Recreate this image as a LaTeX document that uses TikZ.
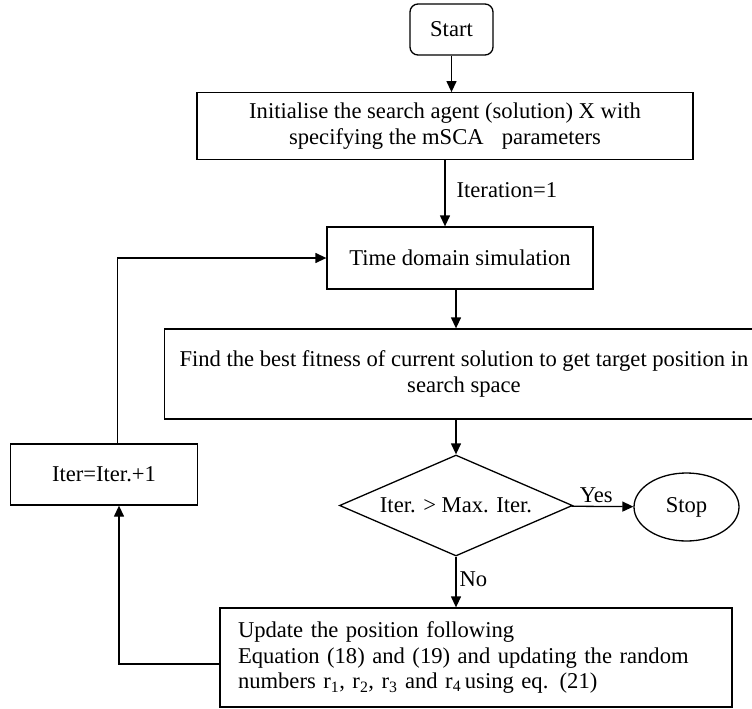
\documentclass[tikz,border=0pt]{standalone}
\usepackage{fontspec}
\setmainfont{Liberation Serif}
\usetikzlibrary{shapes.geometric,arrows.meta}
\tikzstyle{arrow} = [-{Triangle[length=11pt,width=10pt]}, line width=1.3pt]
\tikzstyle{block} = [rectangle, draw, line width=1.3pt, text centered, align=center, inner sep=0pt]
\tikzstyle{startbox} = [rectangle, draw, line width=1.3pt, rounded corners=8pt, 
minimum width=83pt, minimum height=51pt]
\tikzstyle{decision} = [diamond, draw, line width=1.3pt, inner sep=0pt, aspect=2.3, 
minimum width=233pt, minimum height=101pt]
\tikzstyle{endellipse} = [ellipse, draw, line width=1.3pt, inner sep=0pt, 
minimum width=105pt, minimum height=68pt]

\begin{document}
\begin{tikzpicture}[x=1pt, y=-1pt, font=\fontsize{22.6pt}{25.7pt}\selectfont]
				\useasboundingbox (0,0) rectangle (752,709);
				% Place nodes
				\node (start) [startbox] at (451.5,29.5) {Start};
				\node (init) [block, minimum width=496pt, minimum height=66.5pt] at (445,126) {Initialise the search agent (solution) X with\\ specifying the mSCA\hspace{0.55em} parameters};
				\node (time) [block, minimum width=266pt, minimum height=62pt] at (460,258) {Time domain simulation};
				\node (find) [block, minimum width=599pt, minimum height=90pt] at (464,374) {Find the best fitness of current solution to get target position in\\ search space};
				\node (dec) [decision] at (456,505.5) {Iter. > Max. Iter.};
				\node (stopend) [endellipse] at (686.5,507) {Stop};
				\node (upd) [block, align=left, text width=476pt, inner xsep=18pt, minimum height=99pt] at (476,657.5) {Update the position following\\ Equation (18) and (19) and updating the random\\ numbers r\textsubscript{1}, r\textsubscript{2}, r\textsubscript{3} and r\textsubscript{4}\,using eq. (21)};
				\node (iter) [block, minimum width=187pt, minimum height=61pt] at (104,474.5) {Iter=Iter.+1};
				
				% Draw edges
				\draw [arrow] (start) -- (start |- init.north);
				\draw [arrow] (init) -- node[right, pos=0.45, inner sep=11pt] {Iteration=1} (init |- time.north);
				\draw [arrow] (time.south -| dec) -- (find.north -| dec);
				\draw [arrow] (find.south -| dec) -- (dec);
				\draw [arrow] (dec) -- node[above, pos=0.4] {Yes} (stopend);
				\draw [arrow] (dec) -- node[right, pos=0.45, inner sep=3pt] {No} (upd.north -| dec);
				\draw [arrow] ([yshift=-6.5pt]upd.west) -| ([xshift=15pt]iter.south);
				\draw [arrow] ([xshift=13.5pt]iter.north) |- (time);
				
			\end{tikzpicture}
\end{document}
